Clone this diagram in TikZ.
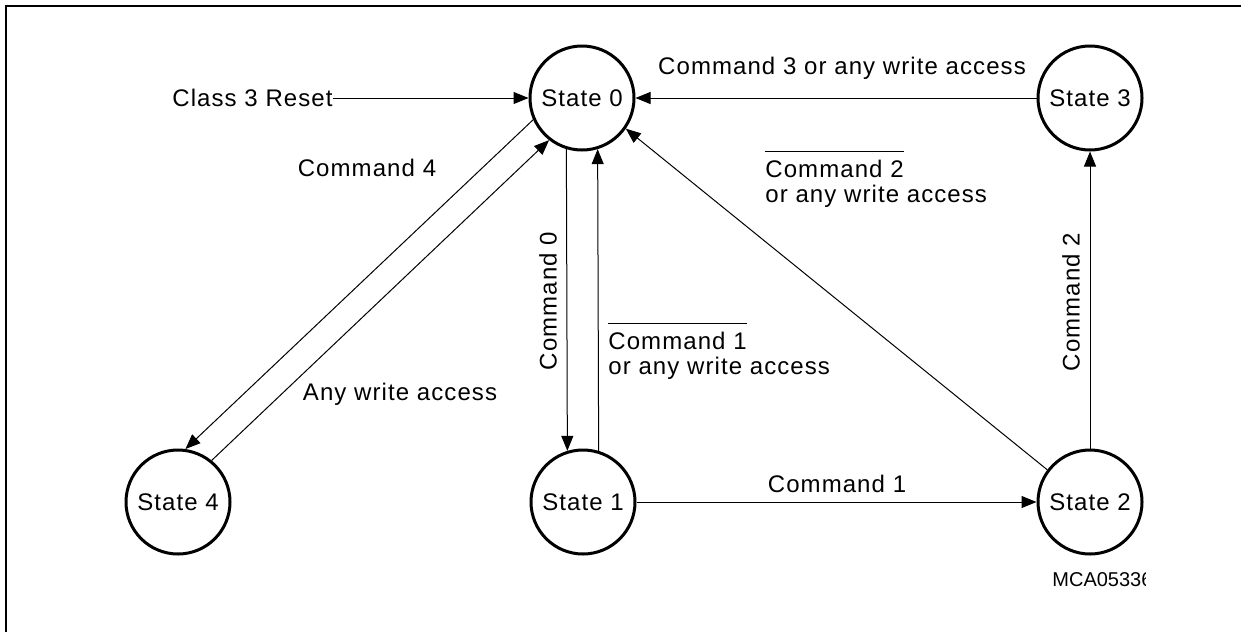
\documentclass[tikz,border=0pt]{standalone}
\usepackage{fontspec}
\setmainfont{Liberation Sans}[LetterSpace=4.5]
\newfontfamily\tagfont{Liberation Sans}
\usetikzlibrary{arrows.meta}

\begin{document}
\begin{tikzpicture}[x=0.5pt,y=-0.5pt,
    state/.style={circle,draw,line width=1.5pt,minimum size=52pt,inner sep=0pt},
    lbl/.style={inner sep=0pt,font=\fontsize{12}{12.5}\selectfont},
    trans/.style={-{Triangle[length=7.5pt,width=6pt]},line width=0.5pt}]
  \useasboundingbox (0,0) rectangle (1241,632);
  % Frame
  \draw[line width=0.75pt] (1241,6) -- (6,6) -- (6,632);
  % States
  \node[state,lbl] (s0) at (582,98) {State 0};
  \node[state,lbl] (s3) at (1090,98) {State 3};
  \node[state,lbl] (s4) at (178,502) {State 4};
  \node[state,lbl] (s1) at (583,502) {State 1};
  \node[state,lbl] (s2) at (1090,502) {State 2};
  % Labels
  \node[lbl,anchor=east] (rst) at (333,98) {Class 3 Reset};
  \node[lbl] (l03) at (842,68) {Command 3 or any write access};
  \node[lbl] (l04) at (367,168) {Command 4};
  \node[lbl] (l40) at (400,394) {Any write access};
  \node[lbl,rotate=90] (l01) at (548,301) {Command 0};
  \node[lbl,anchor=north west,align=left] (l10) at (608,322)
    {$\overline{\hbox{\rule{0pt}{11.5pt}Command 1}}$\\or any write access};
  \node[lbl,anchor=north west,align=left] (l20) at (765,150)
    {$\overline{\hbox{\rule{0pt}{11.5pt}Command 2}}$\\or any write access};
  \node[lbl,rotate=90] (l23) at (1071,302) {Command 2};
  \node[lbl] (l12) at (837,484) {Command 1};
  \begin{scope}
    \clip (1040,560) rectangle (1145,600);
    \node[inner sep=0pt,anchor=west,font=\tagfont\fontsize{10}{11}\selectfont] (tag) at (1052,580) {MCA05336};
  \end{scope}
  % Transitions
  \draw[trans] (rst.east) -- (s0.west);
  \draw[trans] (s3.west) -- (s0.east);
  \draw[trans] (s0.204) -- (s4.82);
  \draw[trans] (s4.51) -- (s0.232);
  \draw[trans] (s0.253) -- (s1.107);
  \draw[trans] (s1.73) -- (s0.287);
  \draw[trans] (s1.east) -- (s2.west);
  \draw[trans] (s2.143) -- (s0.325);
  \draw[trans] (s2.north) -- (s3.south);
\end{tikzpicture}
\end{document}
